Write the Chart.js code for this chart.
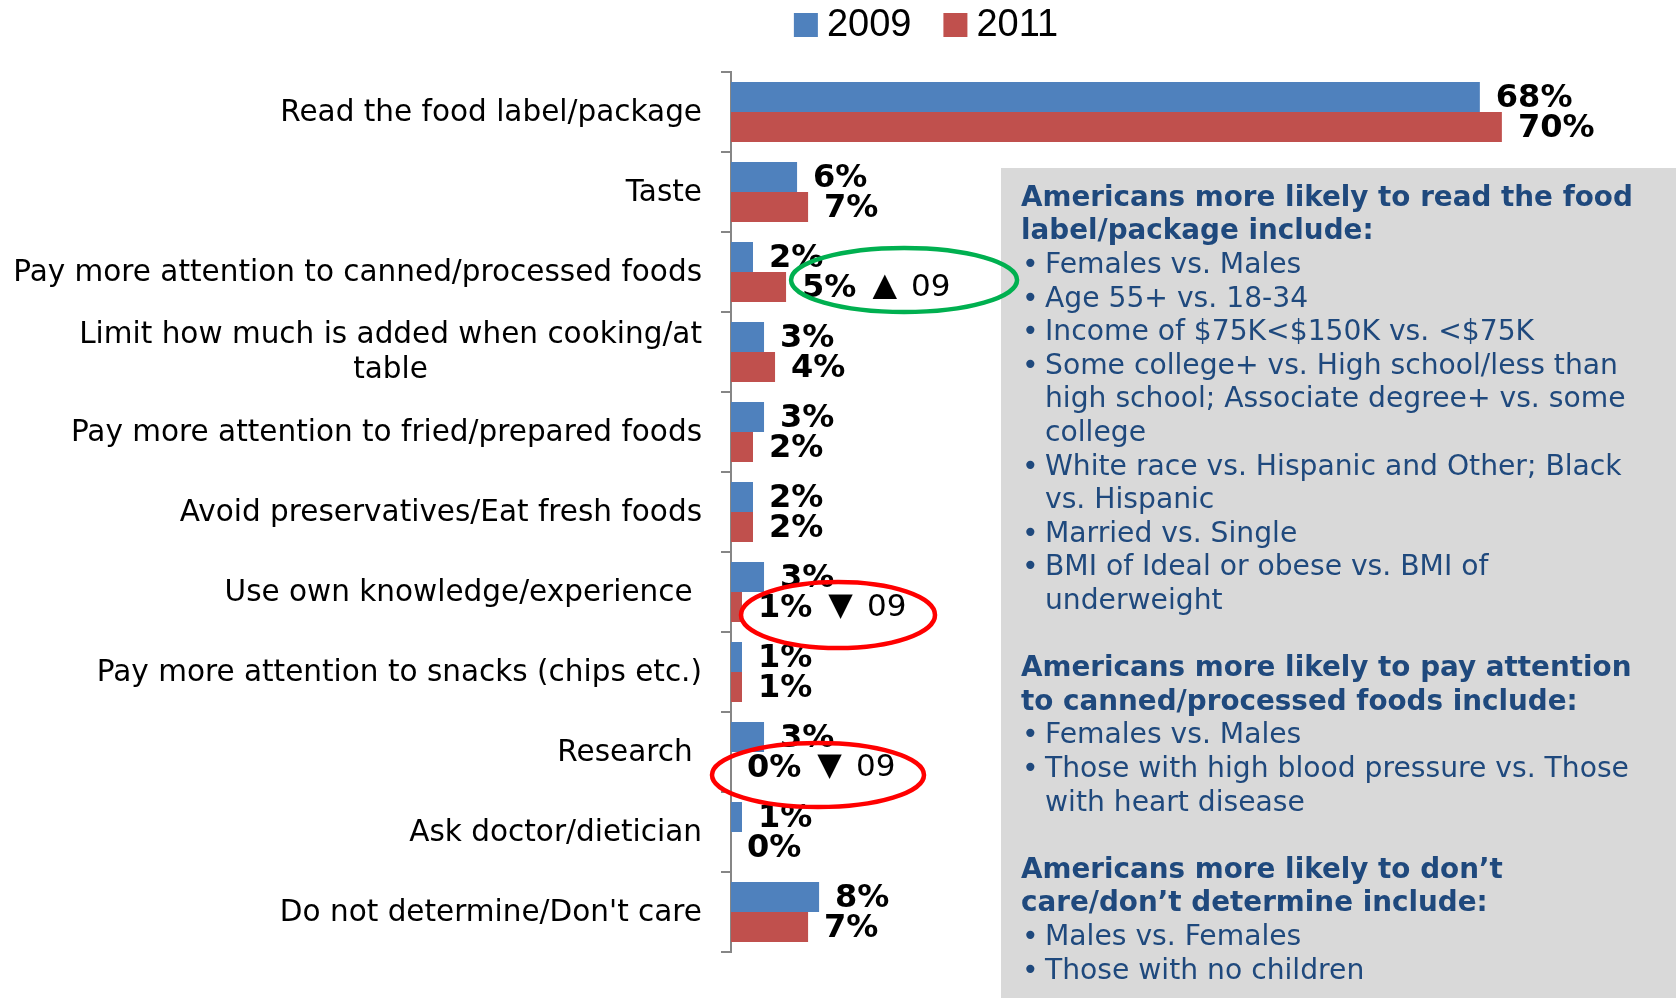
<!DOCTYPE html>
<html>
<head>
<meta charset="utf-8">
<script src="https://cdn.jsdelivr.net/npm/chart.js@4.4.1/dist/chart.umd.min.js"></script>
<style>
  html, body { margin: 0; padding: 0; background: #ffffff; }
  #wrap { width: 1676px; height: 998px; }
</style>
</head>
<body>
<div id="wrap"><canvas id="c" width="1676" height="998"></canvas></div>
<script>
// ---------------- data ----------------
const categories = [
  'Read the food label/package',
  'Taste',
  'Pay more attention to canned/processed foods',
  ['Limit how much is added when cooking/at', 'table'],
  'Pay more attention to fried/prepared foods',
  'Avoid preservatives/Eat fresh foods',
  'Use own knowledge/experience ',
  'Pay more attention to snacks (chips etc.)',
  'Research ',
  'Ask doctor/dietician',
  "Do not determine/Don't care"
];
const seriesNames = ['2009', '2011'];
const values2009 = [68, 6, 2, 3, 3, 2, 3, 1, 3, 1, 8];
const values2011 = [70, 7, 5, 4, 2, 2, 1, 1, 0, 0, 7];

// significant changes vs 2009 (category index, series index, direction symbol, comparison year)
const changeCategories = [2, 6, 8];
const changeSeries = [1, 1, 1];
const changeSymbols = ['\u25B2', '\u25BC', '\u25BC'];
const changeVersus = ['09', '09', '09'];

// side panel text
const panelHeading1 = ['Americans more likely to read the food', 'label/package include:'];
const panelBullets1 = [
  ['Females vs. Males'],
  ['Age 55+ vs. 18-34'],
  ['Income of $75K<$150K vs. <$75K'],
  ['Some college+ vs. High school/less than', 'high school; Associate degree+ vs. some', 'college'],
  ['White race vs. Hispanic and Other; Black', 'vs. Hispanic'],
  ['Married vs. Single'],
  ['BMI of Ideal or obese vs. BMI of', 'underweight']
];
const panelHeading2 = ['Americans more likely to pay attention', 'to canned/processed foods include:'];
const panelBullets2 = [
  ['Females vs. Males'],
  ['Those with high blood pressure vs. Those', 'with heart disease']
];
const panelHeading3 = ['Americans more likely to don\u2019t', 'care/don\u2019t determine include:'];
const panelBullets3 = [
  ['Males vs. Females'],
  ['Those with no children']
];

// ---------------- styles ----------------
const FONT = "'DejaVu Sans', Verdana, sans-serif";
const seriesColors = ['#4f81bd', '#c0504d'];
const ringStyles = [
  { color: '#00b050', dx: 102, dy: -7, rx: 113, ry: 32 },
  { color: '#ff0000', dx: 80, dy: 8, rx: 97, ry: 33 },
  { color: '#ff0000', dx: 71, dy: 8, rx: 106, ry: 32 }
];

const overlay = {
  id: 'overlay',
  beforeDatasetsDraw(chart) {
    const ctx = chart.ctx;
    ctx.save();
    // grey text panel
    ctx.fillStyle = '#d9d9d9';
    ctx.fillRect(1001, 168, 675, 830);
    ctx.fillStyle = '#1f497d';
    ctx.textBaseline = 'middle';
    ctx.textAlign = 'left';
    const lh = 33.6;
    let y = 198.5;
    const blocks = [[panelHeading1, panelBullets1], [panelHeading2, panelBullets2], [panelHeading3, panelBullets3]];
    blocks.forEach(([heading, bullets], bi) => {
      if (bi > 0) y += lh;
      ctx.font = `bold 27.8px ${FONT}`;
      heading.forEach(t => { ctx.fillText(t, 1021, y); y += lh; });
      ctx.font = `28.2px ${FONT}`;
      bullets.forEach(lines => {
        lines.forEach((t, li) => {
          if (li === 0) ctx.fillText('\u2022', 1022, y);
          ctx.fillText(t, 1045, y);
          y += lh;
        });
      });
    });
    ctx.restore();
  },
  afterDatasetsDraw(chart) {
    const ctx = chart.ctx;
    const yScale = chart.scales.y;
    ctx.save();

    // category labels
    ctx.font = `29.5px ${FONT}`;
    ctx.fillStyle = '#000000';
    ctx.textBaseline = 'middle';
    ctx.textAlign = 'center';
    const rightEdge = chart.chartArea.left - 29;
    categories.forEach((lab, i) => {
      const lines = Array.isArray(lab) ? lab : [lab];
      const w = Math.max(...lines.map(t => ctx.measureText(t).width));
      const yc = yScale.getPixelForValue(i);
      const lh = 35;
      lines.forEach((t, li) => {
        ctx.fillText(t, rightEdge - w / 2, yc - (lines.length - 1) * lh / 2 + li * lh + 1);
      });
    });

    // value labels
    ctx.textAlign = 'left';
    ctx.font = `bold 32px ${FONT}`;
    chart.data.datasets.forEach((ds, di) => {
      const meta = chart.getDatasetMeta(di);
      meta.data.forEach((el, i) => {
        ctx.fillStyle = '#000000';
        ctx.fillText(ds.data[i] + '%', el.x + 16, el.y + 2);
      });
    });

    // change marks with rings
    changeCategories.forEach((ci, k) => {
      const si = changeSeries[k];
      const el = chart.getDatasetMeta(si).data[ci];
      const x0 = el.x + 16;
      ctx.font = `bold 32px ${FONT}`;
      const w = ctx.measureText(chart.data.datasets[si].data[ci] + '%').width;
      ctx.font = `32px ${FONT}`;
      ctx.fillStyle = '#000000';
      const sx = x0 + w + 16;
      ctx.fillText(changeSymbols[k], sx, el.y);
      const sw = ctx.measureText(changeSymbols[k]).width;
      ctx.font = `31px ${FONT}`;
      ctx.fillText(changeVersus[k], sx + sw + 14, el.y + 1);
      const st = ringStyles[k];
      ctx.beginPath();
      ctx.ellipse(x0 + st.dx, el.y + st.dy, st.rx, st.ry, 0, 0, Math.PI * 2);
      ctx.lineWidth = 4.5;
      ctx.strokeStyle = st.color;
      ctx.stroke();
    });

    // legend
    ctx.font = `38px 'Liberation Sans', Arial, sans-serif`;
    ctx.textBaseline = 'middle';
    const items = chart.data.datasets.map(ds => ({ text: ds.label, color: ds.backgroundColor, w: ctx.measureText(ds.label).width }));
    const box = 24, gapText = 9, gapItem = 32;
    const total = items.reduce((s, it) => s + box + gapText + it.w, 0) + gapItem * (items.length - 1);
    let lx = 926 - total / 2;
    const ly = 25;
    items.forEach(it => {
      ctx.fillStyle = it.color;
      ctx.fillRect(lx, ly - box / 2, box, box);
      ctx.fillStyle = '#000000';
      ctx.fillText(it.text, lx + box + gapText, ly + 1);
      lx += box + gapText + it.w + gapItem;
    });

    ctx.restore();
  }
};

new Chart(document.getElementById('c'), {
  type: 'bar',
  data: {
    labels: categories,
    datasets: [
      { label: seriesNames[0], data: values2009, backgroundColor: seriesColors[0], categoryPercentage: 0.75, barPercentage: 1 },
      { label: seriesNames[1], data: values2011, backgroundColor: seriesColors[1], categoryPercentage: 0.75, barPercentage: 1 }
    ]
  },
  options: {
    indexAxis: 'y',
    responsive: false,
    animation: false,
    devicePixelRatio: 1,
    layout: { padding: { top: 72, bottom: 46, left: 0, right: 64 } },
    plugins: { legend: { display: false }, tooltip: { enabled: false } },
    scales: {
      x: { display: false, min: 0, max: 80 },
      y: {
        afterFit(s) { s.width = 731; },
        ticks: { display: false },
        grid: { display: true, offset: true, drawOnChartArea: false, drawTicks: true, tickLength: 10, color: '#868686', lineWidth: 2 },
        border: { display: true, color: '#868686', width: 2 }
      }
    }
  },
  plugins: [overlay]
});
</script>
</body>
</html>
